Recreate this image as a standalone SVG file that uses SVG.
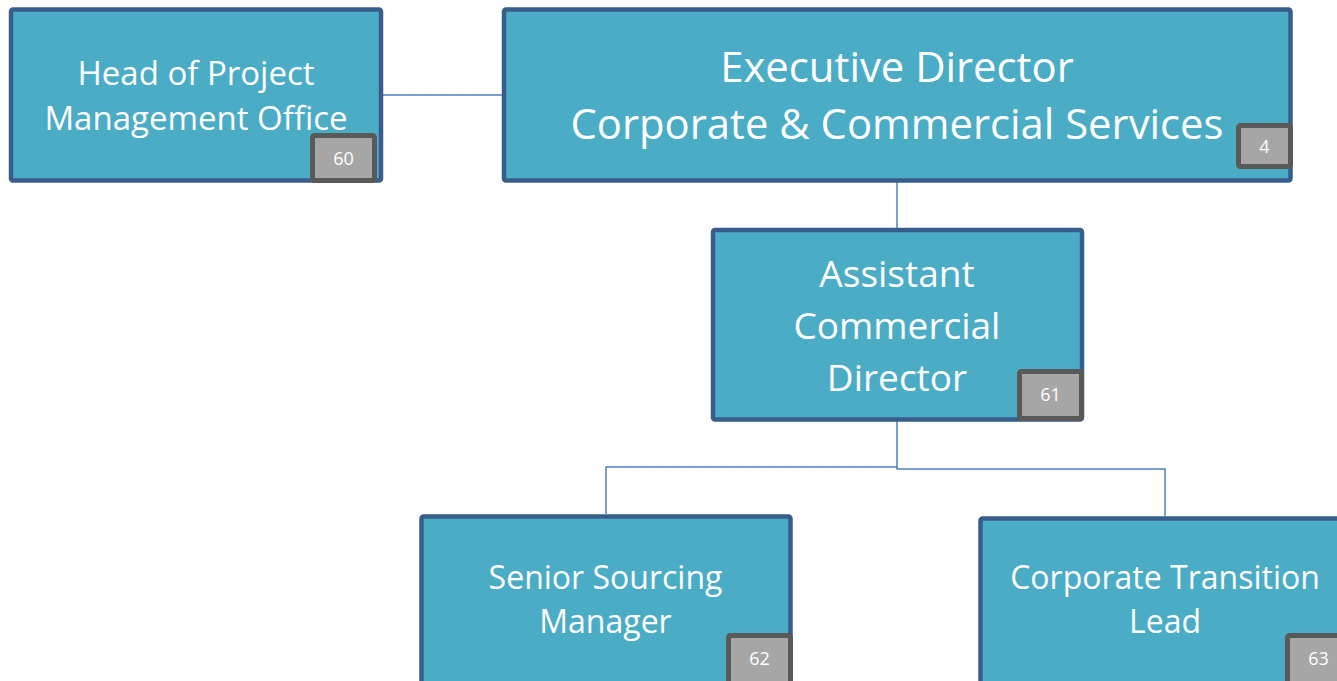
<svg xmlns="http://www.w3.org/2000/svg" width="1337" height="681" viewBox="0 0 1337 681">
<style>
.box{fill:#4BACC6;stroke:#385D8A;stroke-width:4.5;}
.badge{fill:#A6A6A6;stroke:#595959;stroke-width:5;}
.t{fill:#FFFFFF;font-family:"Open Sans","Noto Sans",sans-serif;text-anchor:middle;}
.n{fill:#FFFFFF;font-family:"Open Sans","Noto Sans",sans-serif;text-anchor:middle;font-size:18px;}
.c{fill:none;stroke:#4F81BD;stroke-width:1.5;}
</style>
<rect width="1337" height="681" fill="#FFFFFF"/>
<g id="connectors">
<path class="c" d="M383,95 H503"/>
<path class="c" d="M897,182 V228"/>
<path class="c" d="M897,421 V467 H606 V514"/>
<path class="c" d="M897,467 V469 H1165 V516"/>
</g>
<g id="node-pmo">
<rect class="box" x="11" y="9.5" width="370" height="171" rx="2"/>
<text class="t" x="196" y="85" font-size="33">Head of Project</text>
<text class="t" x="196" y="130" font-size="33">Management Office</text>
<rect class="badge" x="312.5" y="135.5" width="62" height="45" rx="2"/>
<text class="n" x="343.5" y="165">60</text>
</g>
<g id="node-exec">
<rect class="box" x="504" y="9.5" width="786.5" height="171" rx="2"/>
<text class="t" x="897" y="82" font-size="41.8">Executive Director</text>
<text class="t" x="897" y="139" font-size="41.8">Corporate &amp; Commercial Services</text>
<rect class="badge" x="1238.5" y="125.5" width="52" height="41" rx="2"/>
<text class="n" x="1264.5" y="153">4</text>
</g>
<g id="node-acd">
<rect class="box" x="713" y="230" width="369" height="189.5" rx="2"/>
<text class="t" x="897" y="287" font-size="37">Assistant</text>
<text class="t" x="897" y="339" font-size="37">Commercial</text>
<text class="t" x="897" y="391" font-size="37">Director</text>
<rect class="badge" x="1019.5" y="371.5" width="62" height="47" rx="2"/>
<text class="n" x="1050.5" y="401">61</text>
</g>
<g id="node-ssm">
<rect class="box" x="421.5" y="516.5" width="369" height="180" rx="2"/>
<text class="t" x="605.5" y="589" font-size="32">Senior Sourcing</text>
<text class="t" x="605.5" y="633" font-size="32">Manager</text>
<rect class="badge" x="728.5" y="635.5" width="62" height="60" rx="2"/>
<text class="n" x="759.5" y="665">62</text>
</g>
<g id="node-ctl">
<rect class="box" x="980.5" y="518.5" width="369" height="180" rx="2"/>
<text class="t" x="1165" y="589" font-size="32">Corporate Transition</text>
<text class="t" x="1165" y="633" font-size="32">Lead</text>
<rect class="badge" x="1287.5" y="635.5" width="62" height="60" rx="2"/>
<text class="n" x="1318.5" y="665">63</text>
</g>
</svg>
